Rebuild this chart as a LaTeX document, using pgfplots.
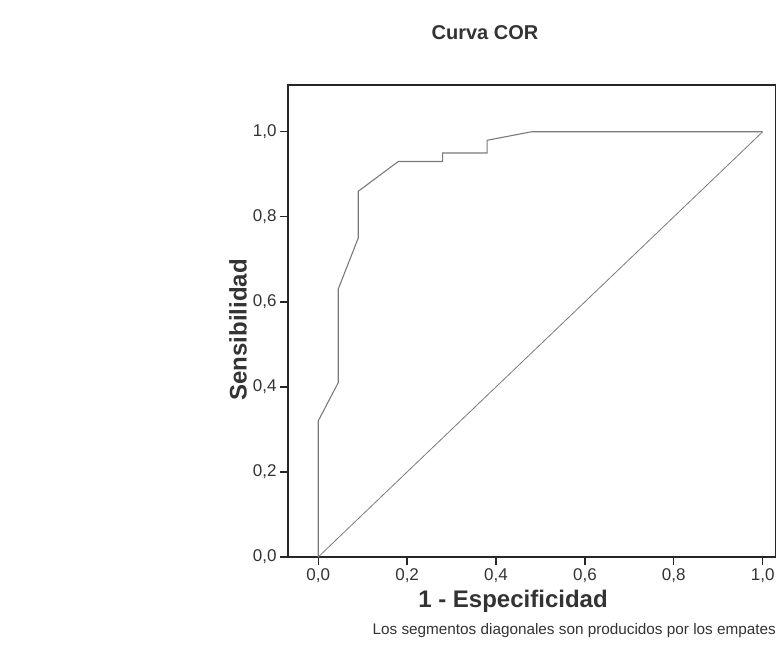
\documentclass[border=0pt]{standalone}
\usepackage{fontspec}
\setmainfont{Liberation Sans}
\usepackage{pgfplots}
\pgfplotsset{compat=1.18}
\definecolor{curve}{HTML}{7A7A7A}
\begin{document}
\begin{tikzpicture}[x=1pt,y=1pt]
\path[use as bounding box] (0,0) rectangle (776,665);
\begin{axis}[
  at={(288pt,108pt)}, anchor=south west,
  scale only axis, width=488pt, height=472pt,
  xmin=-0.068, xmax=1.03, ymin=0, ymax=1.11,
  xtick={0,0.2,0.4,0.6,0.8,1.0},
  ytick={0,0.2,0.4,0.6,0.8,1.0},
  xtick pos=bottom, ytick pos=left,
  tick align=outside,
  major tick length=8pt,
  axis line style={line width=1.3pt, black!85},
  every tick/.style={line width=1.3pt, black!85},
  tick label style={font=\fontsize{17}{17}\selectfont, text=black!80},
  /pgf/number format/assume math mode=true,
  /pgf/number format/.cd, use comma, fixed, fixed zerofill, precision=1,
]
\addplot[curve, line width=1.1pt, mark=none] coordinates {
  (0,0) (0,0.32) (0.045,0.41) (0.045,0.63) (0.09,0.75) (0.09,0.86)
  (0.18,0.93) (0.28,0.93) (0.28,0.95) (0.38,0.95) (0.38,0.98)
  (0.48,1.0) (1.0,1.0)
};
\addplot[curve, line width=0.8pt, mark=none] coordinates {(0,0) (1,1)};
\end{axis}
\node[font=\fontsize{20}{20}\selectfont\bfseries, text=black!80] at (485,632) {Curva COR};
\node[font=\fontsize{24}{24}\selectfont\bfseries, text=black!80] at (513,64) {1 - Especificidad};
\node[font=\fontsize{24}{24}\selectfont\bfseries, text=black!80, rotate=90] at (238,335) {Sensibilidad};
\node[font=\fontsize{15.3}{15.3}\selectfont, text=black!80, anchor=east, inner sep=0pt] at (776,34) {Los segmentos diagonales son producidos por los empates};
\end{tikzpicture}
\end{document}
